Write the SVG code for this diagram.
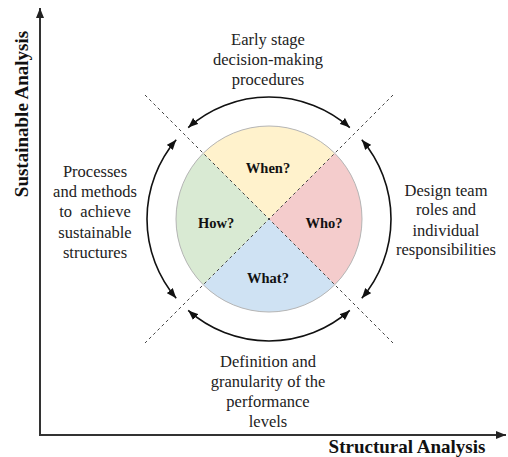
<svg xmlns="http://www.w3.org/2000/svg" width="508" height="457" viewBox="0 0 508 457" font-family="'Liberation Serif', 'Times New Roman', 'DejaVu Serif', serif">
<style>
text{font-family:'Liberation Serif','Times New Roman','DejaVu Serif',serif}
.t{font-size:16.5px;fill:#222;text-anchor:middle;white-space:pre}
.q{font-size:14.5px;font-weight:bold;fill:#111;text-anchor:middle}
.ax{font-size:19px;font-weight:bold;fill:#111;text-anchor:middle}
.arc{fill:none;stroke:#111;stroke-width:1.6;marker-start:url(#ah);marker-end:url(#ah)}
.dash{stroke:#444;stroke-width:1;stroke-dasharray:3 3;fill:none}
.axis{stroke:#333;stroke-width:2;fill:none}
</style>
<defs>
<marker id="ah" viewBox="0 0 10 8" refX="10" refY="4" markerWidth="10" markerHeight="8" markerUnits="userSpaceOnUse" orient="auto-start-reverse">
<path d="M0,0 L10,4 L0,8 Z" fill="#111"/>
</marker>
<marker id="axh" viewBox="0 0 10 8" refX="10" refY="4" markerWidth="10" markerHeight="8" markerUnits="userSpaceOnUse" orient="auto">
<path d="M0,0 L10,4 L0,8 Z" fill="#222"/>
</marker>
</defs>
<g id="axes">
<path class="axis" d="M40,436 L40,8" marker-end="url(#axh)"/>
<path class="axis" d="M39,435 L506,435" marker-end="url(#axh)"/>
<text class="ax" transform="translate(28,114) rotate(-90)">Sustainable Analysis</text>
<text class="ax" x="407" y="453">Structural Analysis</text>
</g>
<g id="quadrants">
<g id="when"><path d="M269,219 L203.2,153.2 A93,93 0 0 1 334.8,153.2 Z" fill="#FFF2CC"/><text class="q" x="268" y="173">When?</text></g>
<g id="who"><path d="M269,219 L334.8,153.2 A93,93 0 0 1 334.8,284.8 Z" fill="#F4CCCC"/><text class="q" x="324" y="228">Who?</text></g>
<g id="what"><path d="M269,219 L334.8,284.8 A93,93 0 0 1 203.2,284.8 Z" fill="#CFE2F3"/><text class="q" x="268" y="283">What?</text></g>
<g id="how"><path d="M269,219 L203.2,284.8 A93,93 0 0 1 203.2,153.2 Z" fill="#D9EAD3"/><text class="q" x="216" y="228">How?</text></g>
<circle cx="269" cy="219" r="93" fill="none" stroke="#b5b5b5" stroke-width="1"/>
</g>
<g id="connectors">
<line class="dash" x1="145" y1="95" x2="393" y2="343"/>
<line class="dash" x1="393" y1="95" x2="145" y2="343"/>
<path class="arc" d="M188.2,127.6 A122,122 0 0 1 349.8,127.6"/>
<path class="arc" d="M361.8,139.8 A122,122 0 0 1 361.8,298.2"/>
<path class="arc" d="M349.8,310.4 A122,122 0 0 1 188.2,310.4"/>
<path class="arc" d="M176.2,298.2 A122,122 0 0 1 176.2,139.8"/>
</g>
<g id="label-top">
<text class="t" x="268" y="45">Early stage</text>
<text class="t" x="268" y="65">decision-making</text>
<text class="t" x="268" y="85">procedures</text>
</g>
<g id="label-left">
<text class="t" x="95" y="177">Processes</text>
<text class="t" x="95" y="197">and methods</text>
<text class="t" x="95" y="217">to  achieve</text>
<text class="t" x="95" y="238">sustainable</text>
<text class="t" x="95" y="258">structures</text>
</g>
<g id="label-right">
<text class="t" x="446" y="196">Design team</text>
<text class="t" x="446" y="215">roles and</text>
<text class="t" x="446" y="236">individual</text>
<text class="t" x="446" y="255">responsibilities</text>
</g>
<g id="label-bottom">
<text class="t" x="268" y="367">Definition and</text>
<text class="t" x="268" y="387">granularity of the</text>
<text class="t" x="268" y="407">performance</text>
<text class="t" x="268" y="427">levels</text>
</g>
</svg>
